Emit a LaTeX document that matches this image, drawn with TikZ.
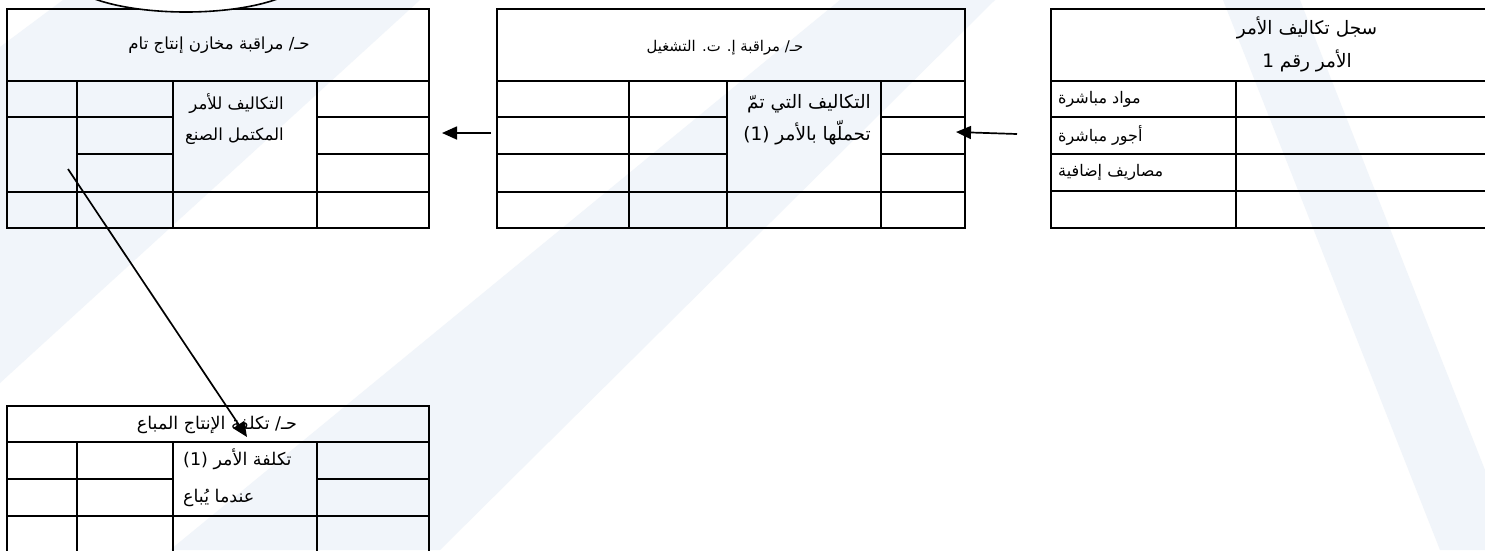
\documentclass[tikz,border=0pt]{standalone}
\usepackage{fontspec}
\newfontfamily\arabicfont[Script=Arabic]{DejaVu Sans}
\TeXXeTstate=1
\usetikzlibrary{arrows.meta}
\definecolor{wmark}{RGB}{241,245,250}
\tikzset{
  grid/.style={line width=2pt, line cap=rect},
  lbl/.style={font=\arabicfont\fontsize{16}{18}\selectfont, inner sep=0pt},
  big/.style={font=\arabicfont\fontsize{18.5}{20}\selectfont, inner sep=0pt},
  mid/.style={font=\arabicfont\fontsize{17.5}{19}\selectfont, inner sep=0pt},
  small/.style={font=\arabicfont\fontsize{14.8}{17}\selectfont, inner sep=0pt},
  flow/.style={line width=1.7pt, -{Triangle[length=15pt,width=13pt]}},
}
\begin{document}
\begin{tikzpicture}[x=1pt,y=-1pt]
\useasboundingbox (0,0) rectangle (1485,550);
\clip (0,0) rectangle (1485,550);
\fill[white] (0,0) rectangle (1485,550);

% faint background bands
\fill[wmark] (63,0) -- (420,0) -- (0,383) -- (0,47) -- cycle;
\fill[wmark] (840,0) -- (995,0) -- (440,550) -- (170,550) -- cycle;
\fill[wmark] (1223,0) -- (1300,0) -- (1485,470) -- (1485,550) -- (1440,550) -- cycle;

% ---- ledger: finished goods control
\draw[grid] (7,9) rectangle (429,228);
\draw[grid] (7,81) -- (429,81);
\foreach \x in {77,173,317} \draw[grid] (\x,81) -- (\x,228);
\foreach \y in {117,192} \draw[grid] (7,\y) -- (77,\y);
\foreach \y in {117,154,192} \draw[grid] (77,\y) -- (173,\y);
\draw[grid] (173,192) -- (317,192);
\foreach \y in {117,154,192} \draw[grid] (317,\y) -- (429,\y);

% ---- ledger: work in process control
\draw[grid] (497,9) rectangle (965,228);
\draw[grid] (497,81) -- (965,81);
\foreach \x in {629,727,881} \draw[grid] (\x,81) -- (\x,228);
\foreach \y in {117,154,192} \draw[grid] (497,\y) -- (727,\y);
\draw[grid] (727,192) -- (881,192);
\foreach \y in {117,154,192} \draw[grid] (881,\y) -- (965,\y);

% ---- job cost sheet
\draw[grid] (1051,9) rectangle (1600,228);
\draw[grid] (1051,81) -- (1600,81);
\draw[grid] (1236,81) -- (1236,228);
\foreach \y in {117,154,191} \draw[grid] (1051,\y) -- (1600,\y);

% ---- ledger: cost of goods sold
\draw[grid] (7,406) rectangle (429,600);
\draw[grid] (7,442) -- (429,442);
\foreach \x in {77,173,317} \draw[grid] (\x,442) -- (\x,600);
\foreach \y in {479,516} \draw[grid] (7,\y) -- (173,\y);
\draw[grid] (173,516) -- (317,516);
\foreach \y in {479,516} \draw[grid] (317,\y) -- (429,\y);

% shape above the first ledger
\draw[line width=1.6pt, fill=white] (186,-25) ellipse [x radius=120, y radius=37];

% texts
\node[lbl, font=\arabicfont\fontsize{16.6}{18}\selectfont] (t1h) at (219,45) {\beginR حـ/ مراقبة مخازن إنتاج تام\endR};
\node[lbl, font=\arabicfont\fontsize{16.6}{18}\selectfont, anchor=east] (t1a) at (284,104) {\beginR التكاليف للأمر\endR};
\node[lbl, font=\arabicfont\fontsize{16.6}{18}\selectfont, anchor=east] (t1b) at (284,136) {\beginR المكتمل الصنع\endR};

\node[small] (t2h) at (725,48) {\beginR حـ/ مراقبة إ. ت. التشغيل\endR};
\node[big, anchor=east] (t2a) at (871,104) {\beginR التكاليف التي تمّ\endR};
\node[big, anchor=east] (t2b) at (871,133) {\beginR تحملّها بالأمر \beginL(1)\endL\endR};

\node[big] (t3h) at (1307,28) {\beginR سجل تكاليف الأمر\endR};
\node[big] (t3n) at (1307,61) {\beginR الأمر رقم \beginL1\endL\endR};
\node[lbl, anchor=west] (t3a) at (1058,99) {\beginR مواد مباشرة\endR};
\node[lbl, anchor=west] (t3b) at (1058,135) {\beginR أجور مباشرة\endR};
\node[lbl, anchor=west] (t3c) at (1058,172) {\beginR مصاريف إضافية\endR};

\node[mid] (t4h) at (217,425) {\beginR حـ/ تكلفة الإنتاج المباع\endR};
\node[mid, anchor=west] (t4a) at (183,459) {\beginR تكلفة الأمر \beginL(1)\endL\endR};
\node[mid, anchor=west] (t4b) at (183,498) {\beginR عندما يُباع\endR};

% flow of costs
\coordinate (sheetOut) at (1017,134);
\coordinate (wipIn) at (956,132);
\coordinate (wipOut) at (491,133);
\coordinate (fgIn) at (442,133);
\coordinate (fgOut) at (68,169);
\coordinate (cogsIn) at (247,437);
\draw[flow] (sheetOut) -- (wipIn);
\draw[flow] (wipOut) -- (fgIn);
\draw[flow] (fgOut) -- (cogsIn);
\end{tikzpicture}
\end{document}
